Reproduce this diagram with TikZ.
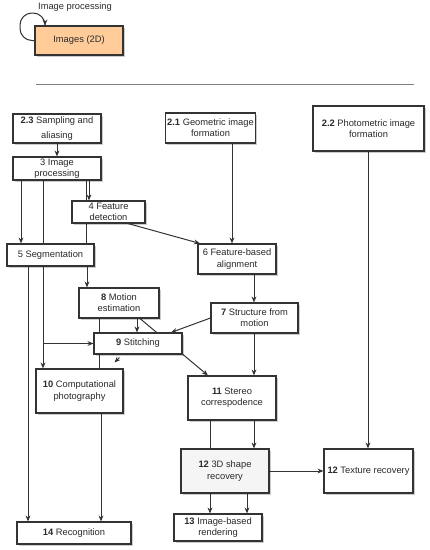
\documentclass[tikz,border=0pt]{standalone}
\usepackage{fontspec}
\setmainfont{Liberation Sans}
\usetikzlibrary{arrows.meta,backgrounds,shadows}
\definecolor{ln}{HTML}{333333}
\definecolor{txt}{HTML}{2A2A2A}
\definecolor{orangefill}{HTML}{FFCC99}
\definecolor{grayfill}{HTML}{F5F5F5}
\begin{document}
\begin{tikzpicture}[x=0.75pt,y=-0.75pt,
  box/.style={draw=ln,line width=0.8pt,fill=white,inner sep=1pt,align=center,
    text=txt,font=\fontsize{7}{8.4}\selectfont,
    drop shadow={shadow xshift=1.2pt,shadow yshift=-1.2pt,opacity=0.2,fill=black}},
  arr/.style={draw=ln,line width=0.75pt,-{Stealth[length=4.5pt,width=3.6pt]}},
  ln/.style={draw=ln,line width=0.75pt}]
\useasboundingbox (0,0) rectangle (429,550);
% legend
\node[box,fill=orangefill,minimum width=66pt,minimum height=21.75pt] (img) at (79,40.5) {Images (2D)};
\node[text=txt,font=\fontsize{7}{8.4}\selectfont,inner sep=0pt] (imgl) at (75,7.5) {Image processing};
\draw[draw=gray,line width=1.3pt] (36,84.5) coordinate (hl1) -- (414,84.5) coordinate (hl2);
% nodes
\node[box,minimum width=66pt,minimum height=21.75pt,font=\fontsize{7}{11.2}\selectfont] (n23) at (57,128.5) {\textbf{2.3} Sampling and\\aliasing};
\node[box,minimum width=65.25pt,minimum height=22.5pt] (n21) at (210.5,128) {\textbf{2.1} Geometric image\\formation};
\node[box,minimum width=83.25pt,minimum height=33.75pt] (n22) at (368.5,128.5) {\textbf{2.2} Photometric image\\formation};
\node[box,minimum width=66pt,minimum height=17.25pt] (n3) at (57,168.5) {3 Image\\processing};
\node[box,minimum width=54.75pt,minimum height=16.5pt] (n4) at (108.5,212) {4 Feature\\detection};
\node[box,minimum width=65.25pt,minimum height=16.5pt] (n5) at (50.5,255) {5 Segmentation};
\node[box,minimum width=58.5pt,minimum height=22.5pt] (n6) at (237,259) {6 Feature-based\\alignment};
\node[box,minimum width=65.25pt,minimum height=22.5pt] (n7) at (254.5,318) {\textbf{7} Structure from\\motion};
\node[box,minimum width=60pt,minimum height=22.5pt] (n8) at (119,303) {\textbf{8} Motion\\estimation};
\node[box,minimum width=66pt,minimum height=15.75pt] (n9) at (138,343.5) {\textbf{9} Stitching};
\node[box,minimum width=65.25pt,minimum height=33pt] (n10) at (79.5,391) {\textbf{10} Computational\\photography};
\node[box,minimum width=66pt,minimum height=33pt] (n11) at (232,398) {\textbf{11} Stereo\\correspodence};
\node[box,fill=grayfill,minimum width=66pt,minimum height=33pt] (n12) at (225,471) {\textbf{12} 3D shape\\recovery};
\node[box,minimum width=66.75pt,minimum height=33pt] (nT) at (368.5,471) {\textbf{12} Texture recovery};
\node[box,minimum width=66pt,minimum height=20.25pt] (n13) at (218,527.5) {\textbf{13} Image-based\\rendering};
\node[box,minimum width=85.5pt,minimum height=16.5pt] (n14) at (74,533) {\textbf{14} Recognition};
% connectors
\begin{scope}[on background layer]
\draw[arr,rounded corners=9pt] (img.west) -- (20,0 |- img.west) -- (20,13) -- (45,13) -- (45,0 |- img.north);
\draw[arr] (n23.south) -- (n3.north);
\draw[arr] (21,0 |- n3.south) -- (21,0 |- n5.north);
\draw[arr] (43,0 |- n3.south) -- (43,0 |- n10.north);
\coordinate (br) at (43,0 |- n9.west);
\draw[arr] (br) -- (n9.west);
\draw[arr] (89,0 |- n3.south) -- (89,0 |- n4.north);
\draw[ln] (86,0 |- n3.south) -- (86,0 |- n5.north);
\draw[arr] (128,0 |- n4.south) -- (200,0 |- n6.north);
\draw[arr] (232,0 |- n21.south) -- (232,0 |- n6.north);
\draw[arr] (254,0 |- n6.south) -- (254,0 |- n7.north);
\draw[arr] (368,0 |- n22.south) -- (368,0 |- nT.north);
\draw[arr] (87,0 |- n5.south) -- (87,0 |- n8.north);
\draw[arr] (28,0 |- n5.south) -- (28,0 |- n14.north);
\draw[arr] (137,0 |- n8.south) -- (137,0 |- n9.north);
\draw[ln] (99,0 |- n8.south) -- (99,0 |- n10.north);
\draw[arr] (140,0 |- n8.south) -- (208,0 |- n11.north);
\draw[arr] (n7.west) -- (171,0 |- n9.north);
\draw[arr] (254,0 |- n7.south) -- (254,0 |- n11.north);
\draw[arr] (101,0 |- n10.south) -- (101,0 |- n14.north);
\draw[arr] (210,0 |- n11.south) -- (210,0 |- n13.north);
\draw[arr] (254,0 |- n11.south) -- (254,0 |- n12.north);
\draw[arr] (247,0 |- n12.south) -- (247,0 |- n13.north);
\draw[arr] (n12.east) -- (nT.west);
\coordinate (s1) at (119.5,357.5);
\coordinate (s2) at (114.5,362.5);
\draw[arr] (s1) -- (s2);
\end{scope}
\end{tikzpicture}
\end{document}
